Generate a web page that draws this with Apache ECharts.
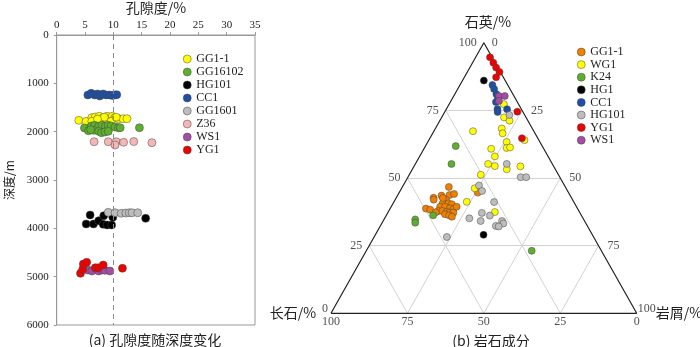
<!DOCTYPE html>
<html>
<head>
<meta charset="utf-8">
<script src="https://cdn.jsdelivr.net/npm/echarts/dist/echarts.min.js"></script>
<style>
body{margin:0;background:#fff;}
#porosity{position:absolute;left:0;top:0;width:262px;height:347px;}
#ternary{position:absolute;left:262px;top:0;width:438px;height:347px;}
</style>
</head>
<body>
<div id="porosity"></div>
<div id="ternary"></div>
<script>
var NUM_FONT = "'Liberation Serif', 'Noto Sans CJK SC'";
var CJK_FONT = "'Noto Sans CJK SC', 'Liberation Serif'";

// ---- (a) porosity vs depth : [porosity %, depth m]
var wellsA = ['GG1-1', 'GG16102', 'HG101', 'CC1', 'GG1601', 'Z36', 'WS1', 'YG1'];
var colorsA = ['#ffff00', '#5fae2e', '#000000', '#1f4fa3', '#bdbdbd', '#f4b6b6', '#a24ea3', '#ee0000'];
var gg11A = [[3.9,1765],[5.2,1786],[6.2,1711],[6.8,1697],[7.5,1682],[8.1,1717],[8.9,1682],[9.8,1682],[10.2,1717],[10.9,1732],[11.7,1732],[12.4,1732],[6.2,1786],[7.5,1786],[9.0,1786],[9.6,1786],[8.4,1700],[10.5,1700],[7.2,1740]];
var gg16102A = [[4.9,1924],[5.6,1980],[6.1,1883],[6.7,1868],[7.4,1889],[8.0,1868],[8.6,1889],[9.1,1868],[9.6,1883],[10.3,1904],[10.9,1918],[11.2,1918],[6.5,1972],[7.4,1993],[7.9,2022],[8.5,2007],[9.1,1993],[14.6,1918],[6.0,1960]];
var hg101A = [[5.9,3724],[5.2,3910],[6.5,3910],[7.4,3842],[8.3,3739],[9.9,3772],[8.2,3917],[8.9,3931],[9.7,3931],[15.7,3793]];
var cc1A = [[5.5,1241],[6.1,1206],[6.7,1241],[7.2,1220],[7.6,1262],[8.2,1220],[8.7,1241],[9.3,1241],[9.8,1250],[10.3,1241],[10.6,1235]];
var gg1601A = [[9.1,3669],[10.3,3677],[11.4,3689],[12.2,3683],[12.8,3677],[13.3,3677],[14.3,3677]];
var z36A = [[6.6,2208],[9.1,2208],[10.5,2208],[10.3,2276],[11.8,2220],[13.6,2205],[16.8,2228]];
var ws1A = [[5.5,4862],[6.2,4883],[7.4,4883],[8.0,4862],[8.5,4869],[9.4,4883]];
var yg1A = [[4.2,4931],[4.6,4848],[4.7,4738],[5.3,4703],[6.8,4815],[7.3,4815],[8.2,4759],[11.6,4827]];
var dataA = [gg11A, gg16102A, hg101A, cc1A, gg1601A, z36A, ws1A, yg1A];
var porosityCut = 10;

// ---- (b) rock composition : [quartz %, feldspar %, rock fragment %]
var wellsB = ['GG1-1', 'WG1', 'K24', 'HG1', 'CC1', 'HG101', 'YG1', 'WS1'];
var colorsB = ['#f08000', '#ffff00', '#5fae2e', '#000000', '#1f4fa3', '#bdbdbd', '#ee0000', '#a24ea3'];
var gg11B = [[46.7,38.1,15.2],[44.6,29.7,25.7],[43.5,42.1,14.4],[43.7,39.4,16.9],[44.1,37.7,18.2],[42.7,45.1,12.2],[42.0,45.4,12.6],[41.9,41.4,16.7],[40.6,43.2,16.2],[40.6,41.3,18.1],[40.3,40.3,19.4],[39.4,44.6,16.0],[39.4,43.0,17.6],[38.8,41.7,19.5],[38.5,40.7,20.8],[39.4,39.2,21.4],[38.7,49.6,11.7],[38.3,48.4,13.3],[37.8,46.0,16.2],[37.8,44.7,17.5],[37.5,43.4,19.1],[37.2,42.7,20.1],[37.2,41.4,21.4],[36.6,44.4,19.0],[36.2,43.3,20.5],[35.7,42.6,21.7],[37.3,47.1,15.6],[42.6,42.1,15.3]];
var wg1B = [[77.3,4.8,17.9],[72.4,7.2,20.4],[71.2,6.0,22.8],[68.3,10.0,21.7],[66.5,10.6,22.9],[67.3,19.9,12.8],[64.0,4.7,31.3],[63.3,10.9,25.8],[61.1,12.0,26.9],[61.3,10.8,27.9],[60.8,17.2,22.0],[58.0,17.4,24.6],[55.2,21.0,23.8],[54.4,19.2,26.4],[53.2,15.9,30.9],[54.3,10.9,34.8],[51.2,25.4,23.4],[46.2,29.9,23.9],[41.2,35.0,23.8],[37.4,27.7,34.9]];
var k24B = [[61.8,28.3,9.9],[55.2,33.0,11.8],[36.2,48.5,15.3],[34.7,55.1,10.2],[33.5,55.7,10.8],[23.1,22.8,54.1]];
var hg1B = [[86.0,7.0,7.0],[29.0,35.6,35.4]];
var cc1B = [[84.4,5.0,10.6],[82.9,5.2,11.9],[81.0,5.4,13.6],[79.8,5.5,14.7],[78.1,7.0,14.9],[75.5,7.8,16.7],[74.4,8.3,17.3],[75.4,4.7,19.9]];
var hg101B = [[73.3,5.0,21.7],[55.2,14.9,29.9],[50.3,12.8,36.9],[50.3,11.0,38.7],[47.2,28.0,24.8],[45.2,28.0,26.8],[41.1,26.1,32.8],[37.1,32.1,30.8],[36.1,30.0,33.9],[34.1,34.0,31.9],[35.1,37.2,27.7],[34.1,27.0,38.9],[33.2,27.0,39.8],[32.3,29.9,37.8],[32.1,29.1,38.8],[28.2,48.0,23.8]];
var yg1B = [[94.6,0.7,4.7],[92.6,0.6,6.8],[90.8,0.6,8.6],[89.2,0.3,10.5],[87.2,2.4,10.4],[74.5,1.8,23.7],[64.7,5.2,30.1]];
var ws1B = [[80.3,4.9,14.8],[80.3,3.0,16.7],[78.5,5.8,15.7]];
var dataB = [gg11B, wg1B, k24B, hg1B, cc1B, hg101B, yg1B, ws1B];
var ternTicks = [0, 25, 50, 75, 100];

// ================= chart (a)
var chartA = echarts.init(document.getElementById('porosity'));
var seriesA = wellsA.map(function (name, i) {
    return {
        name: name,
        type: 'scatter',
        symbolSize: 8,
        itemStyle: {color: colorsA[i], borderColor: '#444', borderWidth: 0.5, opacity: 1},
        data: dataA[i]
    };
});
seriesA[0].markLine = {
    silent: true,
    symbol: 'none',
    label: {show: false},
    lineStyle: {color: '#888', type: [5, 4], width: 1},
    data: [{xAxis: porosityCut}]
};
chartA.setOption({
    animation: false,
    grid: {left: 56.7, top: 35, width: 198.3, height: 290, show: true, borderColor: '#999', borderWidth: 1, outerBoundsMode: 'none', containLabel: false},
    legend: {
        orient: 'vertical', left: 178, top: 48,
        itemWidth: 8, itemHeight: 8, itemGap: 1, icon: 'circle',
        itemStyle: {borderWidth: 0.5},
        textStyle: {fontFamily: NUM_FONT, fontSize: 12, color: '#222', lineHeight: 12},
        data: wellsA
    },
    xAxis: {
        type: 'value', position: 'top', min: 0, max: 35, interval: 5,
        name: '孔隙度/%', nameLocation: 'middle', nameGap: 18,
        nameTextStyle: {fontFamily: CJK_FONT, fontSize: 14, color: '#222'},
        axisLine: {lineStyle: {color: '#999'}},
        axisTick: {show: true, length: 3, lineStyle: {color: '#999'}},
        axisLabel: {fontFamily: NUM_FONT, fontSize: 11, color: '#222', margin: 4, formatter: function (v) { return String(v); }},
        splitLine: {show: false}
    },
    yAxis: {
        type: 'value', inverse: true, min: 0, max: 6000, interval: 1000,
        name: '深度/m', nameLocation: 'middle', nameGap: 40,
        nameTextStyle: {fontFamily: CJK_FONT, fontSize: 12, color: '#222'},
        axisLine: {show: true, lineStyle: {color: '#999'}},
        axisTick: {show: true, length: 3, lineStyle: {color: '#999'}},
        axisLabel: {fontFamily: NUM_FONT, fontSize: 11, color: '#222', margin: 8, formatter: function (v) { return String(v); }},
        splitLine: {show: false}
    },
    graphic: [{
        type: 'text', x: 155, y: 340,
        style: {text: '(a) 孔隙度随深度变化', fontFamily: CJK_FONT, fontSize: 14, fill: '#222', align: 'center', verticalAlign: 'middle'}
    }],
    series: seriesA
});

// ================= chart (b) ternary
function tern(q, r) {
    // quartz at the apex, feldspar bottom-left, rock fragments bottom-right
    return [r + q / 2, q];
}
var chartB = echarts.init(document.getElementById('ternary'));

var gridSeg = [];
[25, 50, 75].forEach(function (t) {
    gridSeg.push({coords: [tern(t, 0), tern(t, 100 - t)]});
    gridSeg.push({coords: [tern(0, t), tern(100 - t, t)]});
    gridSeg.push({coords: [tern(0, 100 - t), tern(100 - t, 0)]});
});

var qLabels = ternTicks.map(function (t) {
    var lb = {formatter: String(t), position: 'left', distance: 7};
    if (t === 0) { lb.distance = 3; lb.offset = [0, -4]; }
    return {value: tern(t, 0), label: lb};
});
var rLabels = ternTicks.map(function (t) {
    var lb = {formatter: String(t), position: 'right', distance: 9};
    if (t === 0) { lb.distance = 8; }
    if (t === 100) { lb.distance = 1; lb.offset = [0, -4]; }
    return {value: tern(100 - t, t), label: lb};
});
var fLabels = ternTicks.map(function (t) {
    return {value: tern(0, 100 - t), label: {formatter: String(t), position: 'bottom', distance: 3}};
});

var tickLabelStyle = {show: true, fontFamily: NUM_FONT, fontSize: 12, color: '#222'};
var seriesB = [
    {
        type: 'lines', coordinateSystem: 'cartesian2d', silent: true, z: 1,
        lineStyle: {color: '#d2d2d2', width: 1, opacity: 1},
        data: gridSeg
    },
    {
        type: 'line', silent: true, symbol: 'none', z: 2,
        lineStyle: {color: '#222', width: 1.2},
        data: [tern(0, 0), tern(0, 100), tern(100, 0), tern(0, 0)]
    }
];
[qLabels, rLabels, fLabels].forEach(function (arr) {
    seriesB.push({type: 'scatter', silent: true, symbolSize: 0, label: tickLabelStyle, data: arr});
});
wellsB.forEach(function (name, i) {
    seriesB.push({
        name: name,
        type: 'scatter',
        symbolSize: 7,
        z: 5,
        itemStyle: {color: colorsB[i], borderColor: '#444', borderWidth: 0.5, opacity: 1},
        data: dataB[i].map(function (d) { return tern(d[0], d[2]); })
    });
});

chartB.setOption({
    animation: false,
    grid: {left: 69, top: 42.7, width: 305.7, height: 270.6, outerBoundsMode: 'none', containLabel: false},
    xAxis: {type: 'value', min: 0, max: 100, show: false},
    yAxis: {type: 'value', min: 0, max: 100, show: false},
    legend: {
        orient: 'vertical', left: 310, top: 41,
        itemWidth: 8, itemHeight: 8, itemGap: 0.6, icon: 'circle',
        itemStyle: {borderWidth: 0.5},
        textStyle: {fontFamily: NUM_FONT, fontSize: 12, color: '#222', lineHeight: 12},
        data: wellsB
    },
    graphic: [
        {type: 'text', x: 226, y: 22, style: {text: '石英/%', fontFamily: CJK_FONT, fontSize: 14, fill: '#222', align: 'center', verticalAlign: 'middle'}},
        {type: 'text', x: 31, y: 313, style: {text: '长石/%', fontFamily: CJK_FONT, fontSize: 14, fill: '#222', align: 'center', verticalAlign: 'middle'}},
        {type: 'text', x: 417, y: 313, style: {text: '岩屑/%', fontFamily: CJK_FONT, fontSize: 14, fill: '#222', align: 'center', verticalAlign: 'middle'}},
        {type: 'text', x: 229, y: 341, style: {text: '(b) 岩石成分', fontFamily: CJK_FONT, fontSize: 14, fill: '#222', align: 'center', verticalAlign: 'middle'}}
    ],
    series: seriesB
});
</script>
</body>
</html>
